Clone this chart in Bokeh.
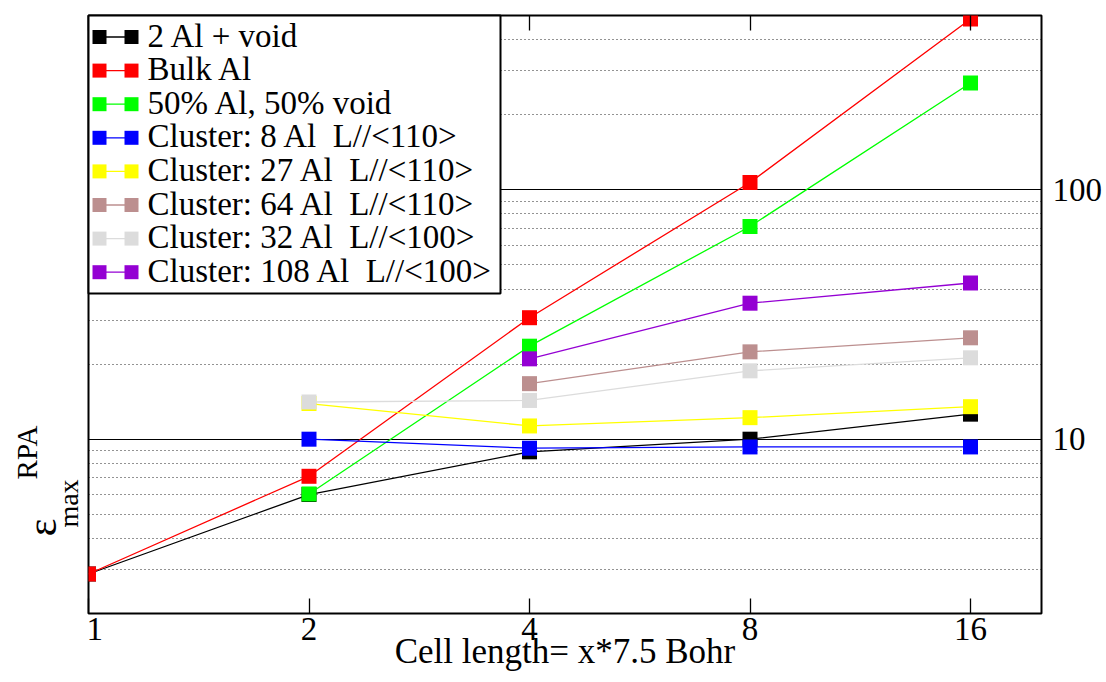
import numpy as np
from bokeh.plotting import figure
from bokeh.layouts import row
from bokeh.models import (LogAxis, FixedTicker, Label, Range1d, NumeralTickFormatter)
from bokeh.core.properties import value
from bokeh.embed import file_html
from bokeh.resources import INLINE

# ---------------- data ----------------
x_ticks = [1, 2, 4, 8, 16]
y_ticks = [10, 100]
y_minor = [3, 4, 5, 6, 7, 8, 9, 20, 30, 40, 50, 60, 70, 80, 90, 200, 300, 400]

names = ["2 Al + void", "Bulk Al", "50% Al, 50% void",
         "Cluster: 8 Al  L//<110>", "Cluster: 27 Al  L//<110>",
         "Cluster: 64 Al  L//<110>", "Cluster: 32 Al  L//<100>",
         "Cluster: 108 Al  L//<100>"]
colors = ["#000000", "#ff0000", "#00ff00", "#0000ff", "#ffff00",
          "#bc8f8f", "#dcdcdc", "#9400d3"]

x_2al = [1, 2, 4, 8, 16]
y_2al = [2.88, 6.0, 8.9, 10.0, 12.6]
x_bulk = [1, 2, 4, 8, 16]
y_bulk = [2.88, 7.1, 30.7, 107.0, 484.0]
x_half = [2, 4, 8, 16]
y_half = [6.03, 23.6, 71.3, 268.0]
x_c8 = [2, 4, 8, 16]
y_c8 = [10.0, 9.2, 9.31, 9.31]
x_c27 = [2, 4, 8, 16]
y_c27 = [13.9, 11.3, 12.2, 13.5]
x_c64 = [4, 8, 16]
y_c64 = [16.7, 22.4, 25.5]
x_c32 = [2, 4, 8, 16]
y_c32 = [14.1, 14.3, 18.8, 21.2]
x_c108 = [4, 8, 16]
y_c108 = [21.0, 35.1, 42.3]

series = [(x_2al, y_2al), (x_bulk, y_bulk), (x_half, y_half), (x_c8, y_c8),
          (x_c27, y_c27), (x_c64, y_c64), (x_c32, y_c32), (x_c108, y_c108)]

x_title = "Cell length= x*7.5 Bohr"
y_title_parts = ["ε", "max", "RPA"]

X0, X1, Y0, Y1 = 1, 20, 2, 500
FONT = "Liberation Serif"

W, H = 1106, 682
STRIP = 86                            # left strip holding the y title
FL, FR, FT, FB = 88, 1041, 15, 613    # frame edges in page px


def dx(px):
    """page x pixel -> data x (log axis)"""
    return 10 ** (np.log10(X0) + (px - FL) / (FR - FL) * (np.log10(X1) - np.log10(X0)))


def dy(py):
    """page y pixel -> data y (log axis)"""
    return 10 ** (np.log10(Y0) + (FB - py) / (FB - FT) * (np.log10(Y1) - np.log10(Y0)))


# ---------------- main plot ----------------
p = figure(width=W - STRIP, height=H, x_axis_type="log", y_axis_type="log",
           x_range=Range1d(X0, X1), y_range=Range1d(Y0, Y1),
           y_axis_location="right",
           output_backend="svg", toolbar_location=None,
           min_border_left=FL - STRIP, min_border_right=W - FR,
           min_border_top=FT, min_border_bottom=H - FB)

p.background_fill_color = "white"
p.border_fill_color = "white"
p.outline_line_color = "black"
p.outline_line_width = 2
p.outline_line_alpha = 1.0

# x axis (bottom)
xa = p.xaxis[0]
xa.ticker = FixedTicker(ticks=x_ticks, minor_ticks=[])
xa.formatter = NumeralTickFormatter(format="0")
xa.major_tick_in = 15
xa.major_tick_out = 0
xa.major_tick_line_color = "black"
xa.major_tick_line_width = 1.3
xa.minor_tick_line_color = None
xa.axis_line_color = None
xa.major_label_standoff = 4
xa.major_label_text_font = FONT
xa.major_label_text_font_size = "33px"
xa.major_label_text_color = "black"
xa.axis_label = x_title
xa.axis_label_text_font = FONT
xa.axis_label_text_font_size = "35px"
xa.axis_label_text_font_style = "normal"
xa.axis_label_text_color = "black"
xa.axis_label_standoff = -11

# top mirror ticks (no labels)
ta = LogAxis(ticker=FixedTicker(ticks=x_ticks, minor_ticks=[]),
             major_tick_in=15, major_tick_out=0, major_tick_line_width=1.3,
             minor_tick_line_color=None, axis_line_color=None,
             major_label_overrides={t: "" for t in x_ticks},
             major_label_standoff=0)
p.add_layout(ta, "above")

# y axis (right)
ya = p.yaxis[0]
ya.ticker = FixedTicker(ticks=y_ticks, minor_ticks=[])
ya.formatter = NumeralTickFormatter(format="0")
ya.major_tick_in = 12
ya.major_tick_out = 0
ya.minor_tick_line_color = None
ya.axis_line_color = None
ya.major_label_standoff = 11
ya.major_label_text_font = FONT
ya.major_label_text_font_size = "33px"
ya.major_label_text_color = "black"

# grid
p.xgrid.visible = False
p.ygrid.ticker = FixedTicker(ticks=y_ticks, minor_ticks=y_minor)
p.ygrid.grid_line_color = "black"
p.ygrid.grid_line_width = 1
p.ygrid.minor_grid_line_color = "black"
p.ygrid.minor_grid_line_width = 1
p.ygrid.minor_grid_line_dash = "1 3"
p.ygrid.minor_grid_line_alpha = 0.85

# series
for (xs, ys), c in zip(series, colors):
    p.line(xs, ys, line_color=c, line_width=1.3)
    p.scatter(xs, ys, marker="square", size=15, fill_color=c, line_color=None)

# ---------------- key (gnuplot style: marker - line - marker) ----------------
n = len(names)
key_mid = [36.5 + 33.6 * i for i in range(n)]          # row centres, page px
key_text = [s.replace("  ", "\u2002") for s in names]   # keep the double gap
box = p.quad(left=[dx(FL)], right=[dx(500)], top=[dy(FT)], bottom=[dy(293)],
             fill_color="white", line_color="black", line_width=2)
seg = p.segment(x0=[dx(99)] * n, x1=[dx(131)] * n,
                y0=[dy(v) for v in key_mid], y1=[dy(v) for v in key_mid],
                line_color=colors, line_width=1.3)
mk = p.scatter(x=[dx(99)] * n + [dx(131)] * n,
               y=[dy(v) for v in key_mid] * 2,
               marker="square", size=14, fill_color=colors * 2, line_color=None)
tx = p.text(x=[dx(147)] * n, y=[dy(v - 1.5) for v in key_mid], text=key_text,
            text_font=value(FONT), text_font_size="33px", text_color="black",
            text_align="left", text_baseline="alphabetic")
for r in (box, seg, mk, tx):
    r.level = "annotation"

# ---------------- left strip with the rotated y title ----------------
# its frame is aligned with the main frame (page y FT..FB)
q = figure(width=STRIP, height=H, x_range=Range1d(0, STRIP),
           y_range=Range1d(H - FB, H - FT),
           x_axis_location=None, y_axis_location=None,
           output_backend="svg", toolbar_location=None,
           min_border_left=0, min_border_right=0,
           min_border_top=FT, min_border_bottom=H - FB)
q.grid.visible = False
q.outline_line_color = None
q.background_fill_color = "white"
q.border_fill_color = "white"

# (centre x, centre y measured from page top, font size) of each title piece
piece_pos = [(41, 527, "42px"), (68, 503, "28px"), (26, 452, "29px")]
for txt, (px, py, fs) in zip(y_title_parts, piece_pos):
    q.add_layout(Label(x=px, y=H - py, text=txt, angle=np.pi / 2,
                       text_font=FONT, text_font_size=fs, text_color="black",
                       text_align="center", text_baseline="middle"))

open("out.html", "w").write(file_html(row(q, p), INLINE))
